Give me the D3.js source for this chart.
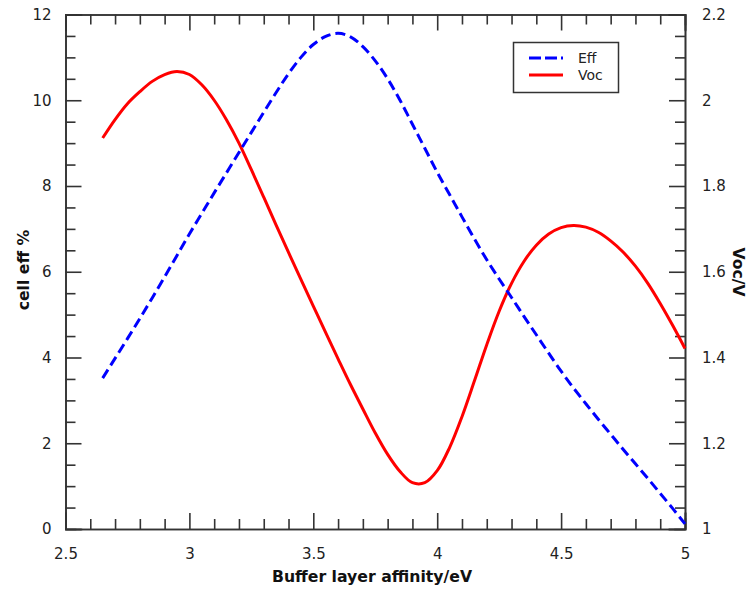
<!DOCTYPE html>
<html>
<head>
<meta charset="utf-8">
<script src="https://cdn.jsdelivr.net/npm/d3@7"></script>
<style>
  body { margin: 0; background: #fff; }
  .tick text { font-family: "DejaVu Sans", Verdana, sans-serif; font-size: 15px; fill: #222; }
  .axis path, .axis line { stroke: #333; stroke-width: 1.6; }
  .title { font-family: "DejaVu Sans", Verdana, sans-serif; font-size: 15.7px; font-weight: bold; fill: #111; }
  .legend text { font-family: "DejaVu Sans", Verdana, sans-serif; font-size: 14px; fill: #222; }
</style>
</head>
<body>
<svg id="chart" width="748" height="590"></svg>
<script>
// buffer layer electron affinity (eV)
const affinity = [2.65, 2.70, 2.75, 2.80, 2.85, 2.90, 2.95, 3.00, 3.05, 3.10, 3.15, 3.20, 3.25, 3.30,
  3.35, 3.40, 3.45, 3.50, 3.55, 3.60, 3.65, 3.70, 3.75, 3.80, 3.85, 3.90, 3.95, 4.00, 4.05, 4.10,
  4.15, 4.20, 4.25, 4.30, 4.35, 4.40, 4.45, 4.50, 4.55, 4.60, 4.65, 4.70, 4.75, 4.80, 4.85, 4.90,
  4.95, 5.00];

// cell efficiency (%)
const effValues = [3.52, 3.98, 4.44, 4.91, 5.39, 5.88, 6.38, 6.88, 7.36, 7.84, 8.31, 8.78, 9.25, 9.72,
  10.18, 10.62, 11.00, 11.30, 11.49, 11.56, 11.48, 11.25, 10.92, 10.50, 10.00, 9.44, 8.88, 8.32, 7.80, 7.28,
  6.77, 6.28, 5.83, 5.40, 4.96, 4.53, 4.10, 3.68, 3.29, 2.92, 2.56, 2.21, 1.86, 1.52, 1.18, 0.83,
  0.48, 0.12];

// open-circuit voltage (V)
const vocValues = [1.912, 1.955, 1.992, 2.020, 2.044, 2.060, 2.067, 2.060, 2.036, 2.000, 1.954, 1.900, 1.838, 1.774,
  1.709, 1.645, 1.582, 1.520, 1.458, 1.397, 1.337, 1.280, 1.224, 1.174, 1.134, 1.108, 1.108, 1.136, 1.190, 1.262,
  1.345, 1.430, 1.508, 1.573, 1.624, 1.662, 1.688, 1.703, 1.708, 1.704, 1.692, 1.672, 1.646, 1.613, 1.573, 1.526,
  1.475, 1.421];

const xTicks = [2.5, 3, 3.5, 4, 4.5, 5];
const effTicks = [0, 2, 4, 6, 8, 10, 12];
const vocTicks = [1, 1.2, 1.4, 1.6, 1.8, 2, 2.2];

const seriesNames = ['Eff', 'Voc'];

const svg = d3.select('#chart');
const m = { left: 65.5, right: 685, top: 14.5, bottom: 529 };

const x = d3.scaleLinear().domain([2.5, 5]).range([m.left, m.right]);
const yEff = d3.scaleLinear().domain([0, 12]).range([m.bottom, m.top]);
const yVoc = d3.scaleLinear().domain([1, 2.2]).range([m.bottom, m.top]);

const minorX = d3.range(2.5, 5.0001, 0.1).filter(v => Math.abs(v * 2 - Math.round(v * 2)) > 1e-6);
const minorEff = d3.range(0, 12.0001, 0.5).filter(v => v % 2 !== 0);
const minorVoc = d3.range(1, 2.2001, 0.05).filter(v => Math.abs(v * 5 - Math.round(v * 5)) > 1e-6);

const drawAxis = (axis, transform) => svg.append('g')
  .attr('class', 'axis')
  .attr('transform', transform)
  .call(axis);

// bottom
drawAxis(d3.axisBottom(x).tickValues(xTicks).tickSize(-16).tickPadding(19).tickFormat(d3.format('')), `translate(0,${m.bottom})`);
drawAxis(d3.axisBottom(x).tickValues(minorX).tickSize(-10).tickFormat(''), `translate(0,${m.bottom})`);
// top
drawAxis(d3.axisTop(x).tickValues(xTicks).tickSize(-16).tickFormat(''), `translate(0,${m.top})`);
drawAxis(d3.axisTop(x).tickValues(minorX).tickSize(-10).tickFormat(''), `translate(0,${m.top})`);
// left
drawAxis(d3.axisLeft(yEff).tickValues(effTicks).tickSize(-16).tickPadding(14).tickFormat(d3.format('')), `translate(${m.left},0)`);
drawAxis(d3.axisLeft(yEff).tickValues(minorEff).tickSize(-10).tickFormat(''), `translate(${m.left},0)`);
// right
drawAxis(d3.axisRight(yVoc).tickValues(vocTicks).tickSize(-16).tickPadding(17).tickFormat(d3.format('')), `translate(${m.right},0)`);
drawAxis(d3.axisRight(yVoc).tickValues(minorVoc).tickSize(-10).tickFormat(''), `translate(${m.right},0)`);

svg.selectAll('.axis path.domain').attr('stroke-linecap', 'square');

const effLine = d3.line()
  .x((d, i) => x(affinity[i]))
  .y(d => yEff(d))
  .curve(d3.curveCatmullRom);

const vocLine = d3.line()
  .x((d, i) => x(affinity[i]))
  .y(d => yVoc(d))
  .curve(d3.curveCatmullRom);

svg.append('path')
  .datum(vocValues)
  .attr('d', vocLine)
  .attr('fill', 'none')
  .attr('stroke', '#ff0000')
  .attr('stroke-width', 3);

svg.append('path')
  .datum(effValues)
  .attr('d', effLine)
  .attr('fill', 'none')
  .attr('stroke', '#0000ff')
  .attr('stroke-width', 3)
  .attr('stroke-dasharray', '10,5');

// titles
svg.append('text').attr('class', 'title')
  .attr('x', 372).attr('y', 582).attr('text-anchor', 'middle')
  .text('Buffer layer affinity/eV');

svg.append('text').attr('class', 'title')
  .attr('transform', 'translate(28.5,270) rotate(-90)').attr('text-anchor', 'middle')
  .text('cell eff %');

svg.append('text').attr('class', 'title')
  .attr('transform', 'translate(733,272) rotate(90)').attr('text-anchor', 'middle')
  .text('Voc/V');

// legend
const legend = svg.append('g').attr('class', 'legend');
legend.append('rect')
  .attr('x', 513.5).attr('y', 42.5).attr('width', 105).attr('height', 50)
  .attr('fill', '#fff').attr('stroke', '#333').attr('stroke-width', 1.5);

const legendStyles = [
  { color: '#0000ff', dash: '12,4' },
  { color: '#ff0000', dash: null }
];

seriesNames.forEach((name, i) => {
  const ly = 58 + i * 17;
  legend.append('line')
    .attr('x1', 529).attr('x2', 563).attr('y1', ly).attr('y2', ly)
    .attr('stroke', legendStyles[i].color).attr('stroke-width', 3)
    .attr('stroke-dasharray', legendStyles[i].dash);
  legend.append('text')
    .attr('x', 578).attr('y', ly).attr('dy', '0.36em')
    .text(name);
});
</script>
</body>
</html>
